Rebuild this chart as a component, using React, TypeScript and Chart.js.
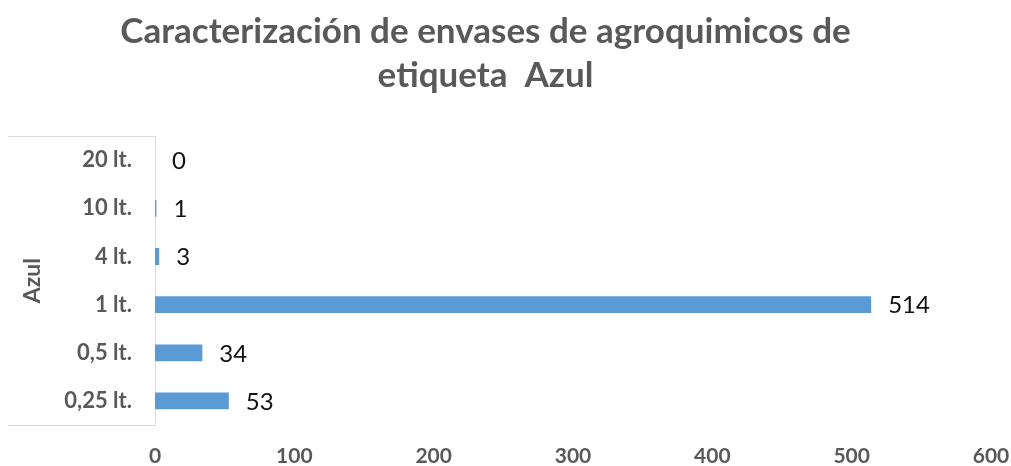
import React, { useEffect, useRef } from "react";
import { Chart, registerables } from "chart.js";

Chart.register(...registerables);

const categories = ["20 lt.", "10 lt.", "4 lt.", "1 lt.", "0,5 lt.", "0,25 lt."];
const values = [0, 1, 3, 514, 34, 53];
const groupLabel = "Azul";
const titleLines = ["Caracterización de envases de agroquimicos de", "etiqueta  Azul"];
const xMin = 0;
const xMax = 600;
const xStep = 100;

const GRAY = "#595959";
const AXIS = "#d9d9d9";
const BAR = "#5B9BD5";

const boxLinesPlugin = {
  id: "boxLines",
  afterDraw(chart: any) {
    const { ctx, chartArea } = chart;
    ctx.save();
    ctx.strokeStyle = AXIS;
    ctx.lineWidth = 1;
    ctx.beginPath();
    ctx.moveTo(8, Math.round(chartArea.top) + 0.5);
    ctx.lineTo(chartArea.left, Math.round(chartArea.top) + 0.5);
    ctx.moveTo(8, Math.round(chartArea.bottom) + 0.5);
    ctx.lineTo(chartArea.left, Math.round(chartArea.bottom) + 0.5);
    ctx.stroke();
    ctx.restore();
  },
};

const dataLabelPlugin = {
  id: "dataLabels",
  afterDatasetsDraw(chart: any) {
    const { ctx } = chart;
    const meta = chart.getDatasetMeta(0);
    ctx.save();
    ctx.font = "24px Lato";
    ctx.fillStyle = "#111111";
    ctx.textAlign = "left";
    ctx.textBaseline = "middle";
    meta.data.forEach((bar: any, i: number) => {
      const v = chart.data.datasets[0].data[i];
      ctx.fillText(String(v), bar.x + 17, bar.y + 1);
    });
    ctx.restore();
  },
};

export default function App() {
  const ref = useRef<HTMLCanvasElement | null>(null);

  useEffect(() => {
    document.body.style.margin = "0";
    const canvas = ref.current!;
    const chart = new Chart(canvas, {
      type: "bar",
      data: {
        labels: categories,
        datasets: [
          {
            data: values,
            backgroundColor: BAR,
            barPercentage: 0.35,
            categoryPercentage: 1,
          },
        ],
      },
      options: {
        indexAxis: "y",
        animation: false,
        responsive: false,
        maintainAspectRatio: false,
        layout: { padding: { left: -20, right: 20, top: 0, bottom: 0 } },
        plugins: {
          legend: { display: false },
          tooltip: { enabled: false },
          title: {
            display: true,
            text: titleLines,
            color: GRAY,
            font: { family: "Lato", size: 35, weight: "bold", lineHeight: 1.26 },
            padding: { top: 10, bottom: 38 },
          },
        },
        scales: {
          x: {
            min: xMin,
            max: xMax,
            grid: { display: false, drawTicks: false },
            border: { display: false },
            ticks: {
              stepSize: xStep,
              color: GRAY,
              padding: 19,
              font: { family: "Lato", size: 21, weight: "bold" },
            },
            afterFit(scale: any) {
              scale.height = 41;
              scale.paddingLeft = 0;
              scale.paddingRight = 0;
            },
          },
          y: {
            grid: { display: false, drawTicks: false },
            border: { display: true, color: AXIS, width: 1 },
            ticks: {
              color: GRAY,
              padding: 23,
              font: { family: "Lato", size: 22, weight: "bold" },
            },
            title: {
              display: true,
              text: groupLabel,
              color: GRAY,
              font: { family: "Lato", size: 23, weight: "bold" },
              padding: { top: 39, bottom: 0 },
            },
            afterFit(scale: any) {
              scale.width = 175;
            },
          },
        },
      },
      plugins: [boxLinesPlugin, dataLabelPlugin],
    });
    return () => chart.destroy();
  }, []);

  return (
    <div style={{ width: 1011, height: 466 }}>
      <canvas ref={ref} width={1011} height={466} style={{ display: "block" }} />
    </div>
  );
}
